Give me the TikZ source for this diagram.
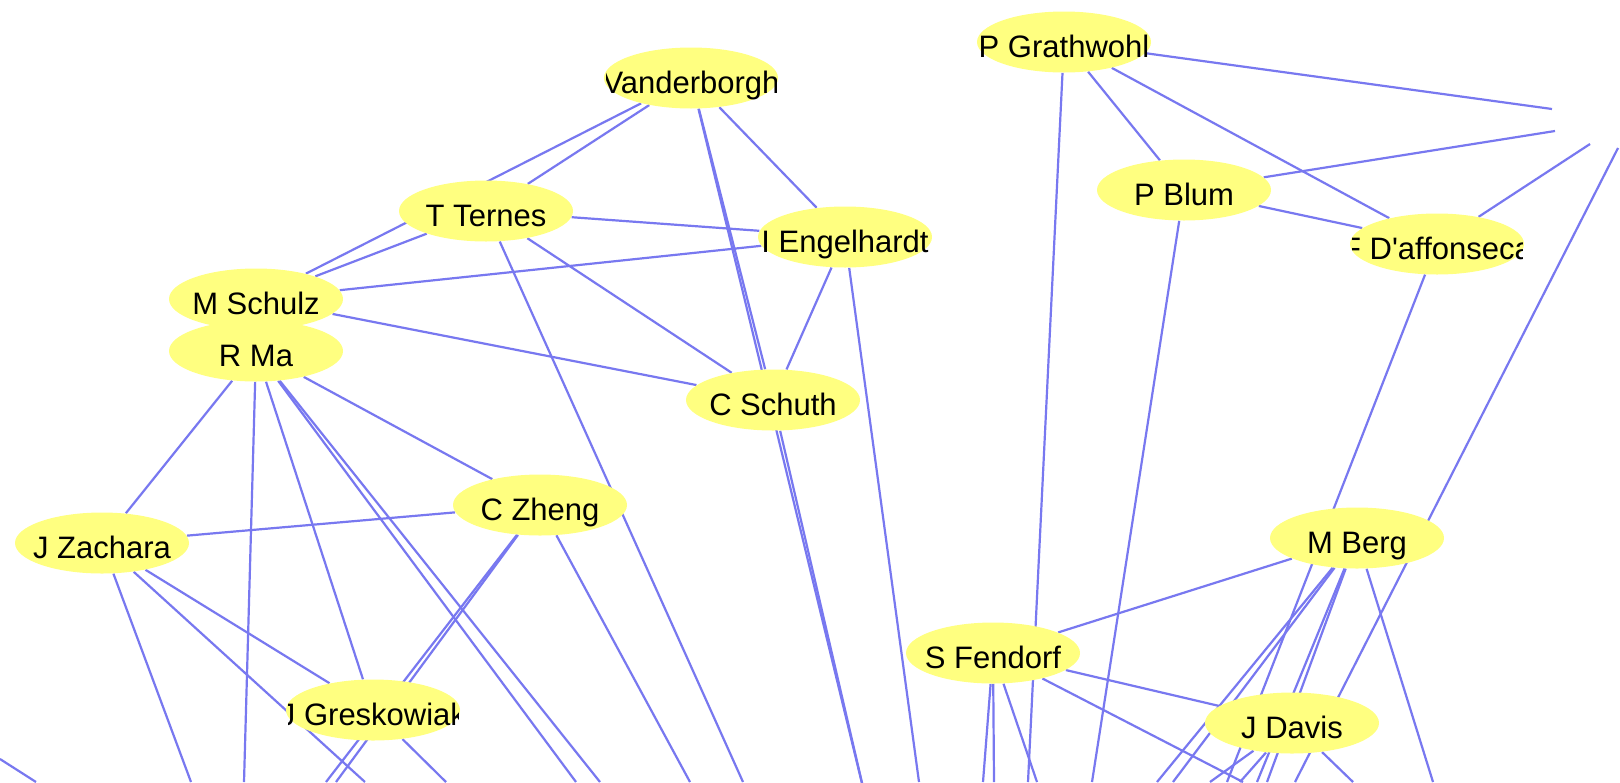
\documentclass[tikz,border=0pt]{standalone}
\usepackage{fontspec}
\setmainfont{Liberation Sans}
\usetikzlibrary{shapes.geometric,backgrounds}
\definecolor{nodefill}{RGB}{255,255,128}
\definecolor{edgec}{RGB}{120,120,240}
\tikzset{
  pers/.style={ellipse, fill=nodefill, draw=none, minimum width=87pt, minimum height=30.5pt, inner sep=0pt},
  lbl/.style={font=\fontsize{15.5pt}{18pt}\selectfont, text=black, inner sep=0pt, text height=11pt, text depth=0pt, yshift=-2.2pt},
  lnk/.style={draw=edgec, line width=1.1pt}
}
\newcommand\persnode[4]{%
  \node[pers] (#1) at (#2,#3) {};
  \begin{scope}
    \clip (#2-85,#3-31) rectangle (#2+85,#3+31);
    \node[lbl] (#1-t) at (#1.center) {#4};
  \end{scope}}
\begin{document}
\begin{tikzpicture}[x=0.5pt,y=-0.5pt]
\useasboundingbox (0,0) rectangle (1620,782);
% nodes
\persnode{vdb}{691}{78}{Vanderborgh}
\persnode{pgr}{1064}{42}{P Grathwohl}
\persnode{tte}{486}{211}{T Ternes}
\persnode{ieng}{845}{237}{I Engelhardt}
\persnode{pbl}{1184}{190}{P Blum}
\persnode{fda}{1437}{244}{F D\textquotesingle affonseca}
\persnode{msc}{256}{299}{M Schulz}
\persnode{rma}{256}{351}{R Ma}
\persnode{csc}{773}{400}{C Schuth}
\persnode{czh}{540}{505}{C Zheng}
\persnode{jza}{102}{543}{J Zachara}
\persnode{mbe}{1357}{538}{M Berg}
\persnode{sfe}{993}{653}{S Fendorf}
\persnode{jgr}{373}{710}{J Greskowiak}
\persnode{jda}{1292}{723}{J Davis}
% free ends
\coordinate (hg) at (1552,109);
\coordinate (hb) at (1555,131);
\coordinate (hf) at (1590,144);
\coordinate (hd) at (1618,148);
\coordinate (X) at (866,800);
\coordinate (b1) at (1092,782);
\coordinate (m1) at (1157,782);
\coordinate (m2) at (1173,782);
\coordinate (m3) at (1257,782);
\coordinate (m4) at (1267,782);
\coordinate (m5) at (1433,782);
\coordinate (f1) at (1227,782);
\coordinate (d1) at (1295,782);
\coordinate (j1) at (1210,782);
\coordinate (j2) at (1240,782);
\coordinate (j3) at (1353,782);
\coordinate (s1) at (983,782);
\coordinate (s2) at (994,782);
\coordinate (s3) at (1037,782);
\coordinate (s4) at (1243,782);
\coordinate (g1) at (1028,782);
\coordinate (e1) at (919,782);
\coordinate (t1) at (743,782);
\coordinate (z1) at (690,782);
\coordinate (z2) at (326,782);
\coordinate (z3) at (336,782);
\coordinate (r1) at (244,782);
\coordinate (r2) at (576,782);
\coordinate (r3) at (600,782);
\coordinate (a1) at (191,782);
\coordinate (a2) at (365,782);
\coordinate (k1) at (446,782);
\coordinate (l1) at (0,759);
\coordinate (l2) at (36,782);
\begin{pgfonlayer}{background}
\fill[white] (0,0) rectangle (1620,782);
% edges between nodes
\draw[lnk] (vdb) -- (tte);
\draw[lnk] (vdb) -- (msc);
\draw[lnk] (vdb) -- (ieng);
\draw[lnk] (vdb) -- (csc);
\draw[lnk] (tte) -- (msc);
\draw[lnk] (tte) -- (ieng);
\draw[lnk] (tte) -- (csc);
\draw[lnk] (msc) -- (ieng);
\draw[lnk] (msc) -- (csc);
\draw[lnk] (ieng) -- (csc);
\draw[lnk] (pgr) -- (pbl);
\draw[lnk] (pgr) -- (fda);
\draw[lnk] (pbl) -- (fda);
\draw[lnk] (rma) -- (jza);
\draw[lnk] (rma) -- (czh);
\draw[lnk] (rma) -- (jgr);
\draw[lnk] (jza) -- (czh);
\draw[lnk] (jza) -- (jgr);
\draw[lnk] (mbe) -- (sfe);
\draw[lnk] (sfe) -- (jda);
% edges to hidden node on the right
\draw[lnk] (pgr) -- (hg);
\draw[lnk] (pbl) -- (hb);
\draw[lnk] (fda) -- (hf);
\draw[lnk] (hd) -- (d1);
% edges leaving the picture
\draw[lnk] (vdb) -- (X);
\draw[lnk] (csc) -- (X);
\draw[lnk] (pbl) -- (b1);
\draw[lnk] (mbe) -- (m1);
\draw[lnk] (mbe) -- (m2);
\draw[lnk] (mbe) -- (m3);
\draw[lnk] (mbe) -- (m4);
\draw[lnk] (mbe) -- (m5);
\draw[lnk] (fda) -- (f1);
\draw[lnk] (jda) -- (j1);
\draw[lnk] (jda) -- (j2);
\draw[lnk] (jda) -- (j3);
\draw[lnk] (sfe) -- (s1);
\draw[lnk] (sfe) -- (s2);
\draw[lnk] (sfe) -- (s3);
\draw[lnk] (sfe) -- (s4);
\draw[lnk] (pgr) -- (g1);
\draw[lnk] (ieng) -- (e1);
\draw[lnk] (tte) -- (t1);
\draw[lnk] (czh) -- (z1);
\draw[lnk] (czh) -- (z2);
\draw[lnk] (czh) -- (z3);
\draw[lnk] (rma) -- (r1);
\draw[lnk] (rma) -- (r2);
\draw[lnk] (rma) -- (r3);
\draw[lnk] (jza) -- (a1);
\draw[lnk] (jza) -- (a2);
\draw[lnk] (jgr) -- (k1);
\draw[lnk] (l1) -- (l2);
\end{pgfonlayer}
\end{tikzpicture}
\end{document}
